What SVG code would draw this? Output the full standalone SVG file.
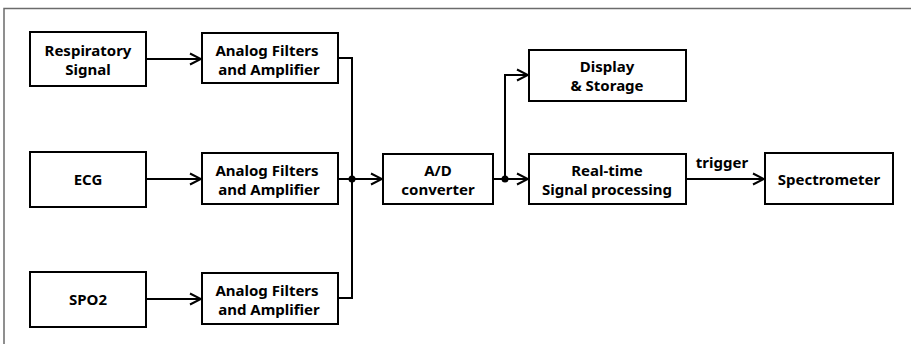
<svg xmlns="http://www.w3.org/2000/svg" width="911" height="344" viewBox="0 0 911 344">
  <style>
    .box { fill: #fff; stroke: #000; stroke-width: 2; }
    .lbl { font-family: "Noto Sans", "Liberation Sans", sans-serif; font-weight: bold; font-size: 15px; fill: #000; text-anchor: middle; }
    .wire { fill: none; stroke: #000; stroke-width: 2; }
    .frame { fill: none; stroke: #6b6b6b; stroke-width: 1.5; }
  </style>
  <defs>
    <marker id="arrow" viewBox="0 0 14 14" refX="13" refY="7" markerWidth="14" markerHeight="14" markerUnits="userSpaceOnUse" orient="auto">
      <path d="M2,1.5 L13,7 L2,12.5" fill="none" stroke="#000" stroke-width="2"/>
    </marker>
  </defs>
  <rect width="911" height="344" fill="#fff"/>
  <rect class="frame" x="4" y="8.5" width="920" height="350"/>

  <g id="connectors">
    <line class="wire" x1="146" y1="59" x2="201" y2="59" marker-end="url(#arrow)"/>
    <line class="wire" x1="146" y1="179" x2="201" y2="179" marker-end="url(#arrow)"/>
    <line class="wire" x1="146" y1="299" x2="201" y2="299" marker-end="url(#arrow)"/>
    <polyline class="wire" points="338,58 352,58 352,298 338,298"/>
    <line class="wire" x1="338" y1="179" x2="382" y2="179" marker-end="url(#arrow)"/>
    <circle cx="352" cy="179" r="3.5" fill="#000"/>
    <line class="wire" x1="493" y1="179" x2="528" y2="179" marker-end="url(#arrow)"/>
    <polyline class="wire" points="505,179 505,75 528,75" marker-end="url(#arrow)"/>
    <circle cx="505" cy="179" r="3.5" fill="#000"/>
    <line class="wire" x1="686" y1="179" x2="764" y2="179" marker-end="url(#arrow)"/>
    <text class="lbl" x="722" y="168">trigger</text>
  </g>

  <g id="respiratory">
    <rect class="box" x="30" y="32" width="116" height="54"/>
    <text class="lbl" x="88" y="56">Respiratory</text>
    <text class="lbl" x="88" y="75">Signal</text>
  </g>
  <g id="ecg">
    <rect class="box" x="30" y="152" width="116" height="55"/>
    <text class="lbl" x="88" y="185">ECG</text>
  </g>
  <g id="spo2">
    <rect class="box" x="30" y="272" width="116" height="55"/>
    <text class="lbl" x="88" y="305">SPO2</text>
  </g>
  <g id="filter1">
    <rect class="box" x="202" y="33" width="136" height="50"/>
    <text class="lbl" x="267" y="56">Analog Filters</text>
    <text class="lbl" x="269" y="75">and Amplifier</text>
  </g>
  <g id="filter2">
    <rect class="box" x="202" y="153" width="136" height="51"/>
    <text class="lbl" x="267" y="176">Analog Filters</text>
    <text class="lbl" x="269" y="195">and Amplifier</text>
  </g>
  <g id="filter3">
    <rect class="box" x="202" y="273" width="136" height="51"/>
    <text class="lbl" x="267" y="296">Analog Filters</text>
    <text class="lbl" x="269" y="315">and Amplifier</text>
  </g>
  <g id="adc">
    <rect class="box" x="383" y="154" width="110" height="50"/>
    <text class="lbl" x="438" y="176">A/D</text>
    <text class="lbl" x="438" y="195">converter</text>
  </g>
  <g id="display">
    <rect class="box" x="529" y="50" width="157" height="51"/>
    <text class="lbl" x="607" y="72">Display</text>
    <text class="lbl" x="607" y="91">&amp; Storage</text>
  </g>
  <g id="realtime">
    <rect class="box" x="529" y="154" width="157" height="50"/>
    <text class="lbl" x="607" y="176">Real-time</text>
    <text class="lbl" x="607" y="195">Signal processing</text>
  </g>
  <g id="spectrometer">
    <rect class="box" x="765" y="153" width="128" height="51"/>
    <text class="lbl" x="829" y="185">Spectrometer</text>
  </g>
</svg>
